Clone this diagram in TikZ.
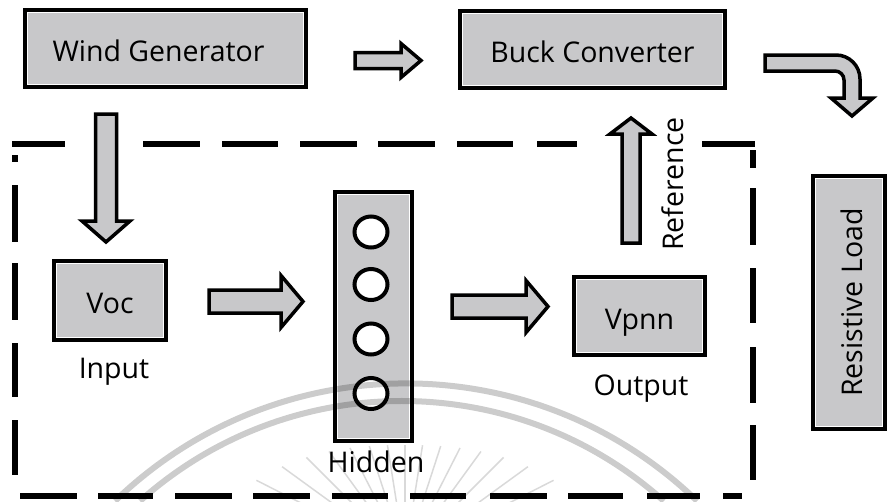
\documentclass[tikz,border=0pt]{standalone}
\usepackage{fontspec}
\setmainfont{Open Sans}
\usetikzlibrary{shapes.geometric}
\definecolor{boxfill}{RGB}{200,200,202}

\begin{document}
\begin{tikzpicture}[x=1pt,y=-1pt,
  block/.style={draw=black, line width=4pt, fill=boxfill, inner sep=0pt,
    text height=26pt, text depth=0pt, font=\fontsize{28.5}{34}\selectfont,
    path picture={\draw[white,line width=6pt]
      (path picture bounding box.south west) rectangle (path picture bounding box.north east);}},
  capt/.style={font=\fontsize{28.5}{34}\selectfont, inner sep=0pt, anchor=base},
  flow/.style={draw=black, line width=3.5pt, fill=boxfill, line join=miter},
  frame/.style={line width=5.5pt, line cap=butt},
  neuron/.style={ellipse, draw=black, line width=4pt, fill=white,
    minimum width=33pt, minimum height=31pt, inner sep=0pt},
  seal/.style={draw=black, opacity=0.2},
]
\useasboundingbox (0,0) rectangle (889,501);

% blocks of the power chain
\node[block, minimum width=281pt, minimum height=77pt] (wg) at (165.5,48.5) {Wind Generator\kern14pt};
\node[block, minimum width=265pt, minimum height=77pt] (bc) at (592.5,49.5) {Buck Converter};
\node[block, rotate=90, minimum width=253pt, minimum height=72pt] (load) at (849,302.5) {Resistive Load};

% neural network
\node[block, minimum width=112pt, minimum height=79pt] (voc) at (110,300.5) {Voc};
\node[block, minimum width=77pt, minimum height=249pt] (hid) at (373.5,316.5) {};
\node[block, minimum width=131pt, minimum height=78pt] (vpnn) at (639.5,316) {Vpnn};
\node[neuron] (n1) at (371,232) {};
\node[neuron] (n2) at (371,284.5) {};
\node[neuron] (n3) at (371,339) {};
\node[neuron] (n4) at (371,393.5) {};

\node[capt] (lin) at (114,378) {Input};
\node[capt] (lhid) at (376,472) {Hidden};
\node[capt] (lout) at (641,395) {Output};
\node[capt, rotate=90] (lref) at (683,184) {Reference};

% block arrows
\draw[flow] (355,52.5) -- (401,52.5) -- (401,43.5) -- (421,60.5) -- (401,77.5) -- (401,68.5) -- (355,68.5) -- cycle;
\draw[flow] (95.5,114) -- (116.5,114) -- (116.5,221) -- (130,221) -- (106,242) -- (82,221) -- (95.5,221) -- cycle;
\draw[flow] (209,290) -- (281,290) -- (281,275.5) -- (303,301.5) -- (281,327.5) -- (281,313) -- (209,313) -- cycle;
\draw[flow] (452,295) -- (526,295) -- (526,280.5) -- (548,306.5) -- (526,332.5) -- (526,318) -- (452,318) -- cycle;
\draw[flow] (622,243) -- (622,134) -- (610,134) -- (631,118) -- (652,134) -- (640,134) -- (640,243) -- cycle;
\draw[flow] (765,55) -- (836,55) .. controls (849.25,55) and (860,65.75) .. (860,79)
  -- (860,98) -- (873,98) -- (852,116) -- (831,98) -- (844,98) -- (844,80)
  .. controls (844,75) and (840,71) .. (835,71) -- (765,71) -- cycle;

% dashed boundary of the network
\draw[frame]
  (12,144) -- (65,144) (143,144) -- (200,144) (222,144) -- (278,144)
  (300,144) -- (357,144) (378,144) -- (435,144) (457,144) -- (513,144)
  (537,144) -- (577,144) (702,144) -- (755,144)
  (753,150) -- (753,168) (753,188) -- (753,245) (753,268) -- (753,323)
  (753,347) -- (753,403) (753,425) -- (753,480)
  (20,496) -- (77,496) (98,496) -- (153,496) (175,496) -- (232,496)
  (253,496) -- (310,496) (332,496) -- (388,496) (410,496) -- (466,496)
  (490,496) -- (547,496) (568,496) -- (623,496) (647,496) -- (700,496)
  (723,496) -- (742,496)
  (15,155) -- (15,162) (15,185) -- (15,242) (15,263) -- (15,320)
  (15,343) -- (15,397) (15,420) -- (15,475);

% faint seal
\draw[seal, line width=6pt] (115,501) arc[start angle=134, end angle=46, radius=419pt];
\draw[seal, line width=6pt] (140,501) arc[start angle=131.8, end angle=48.2, radius=393pt];
\foreach \a in {-63,-54,...,63} {
  \pgfmathsetmacro{\r}{111+54*(\a/62)^2}
  \draw[seal, opacity=0.15, line width=1.5pt] (405,556) -- ++({\r*sin(\a)},{-\r*cos(\a)});
}
\end{tikzpicture}
\end{document}
